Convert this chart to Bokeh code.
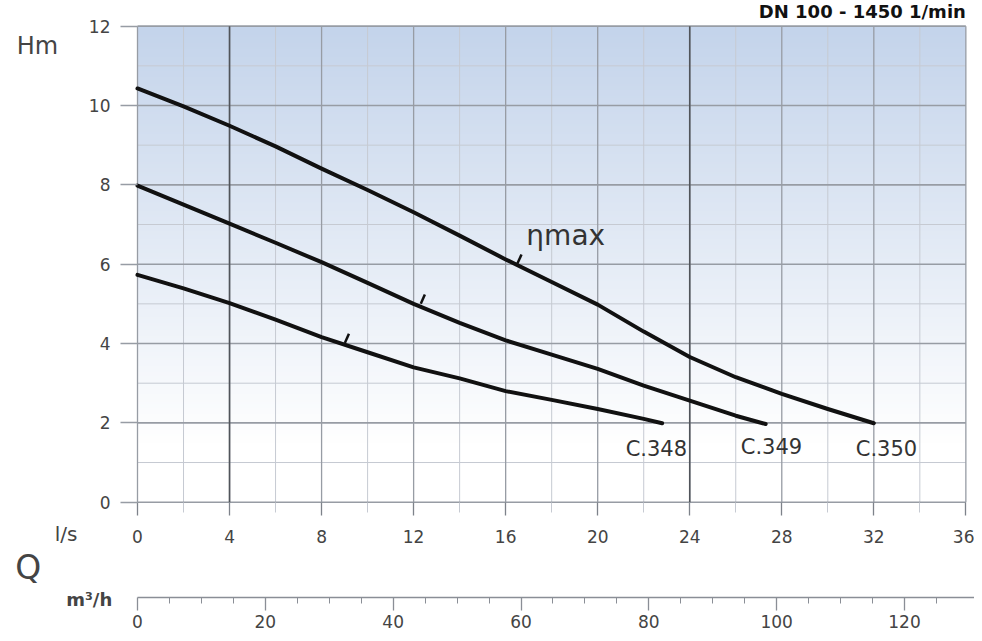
import numpy as np
from bokeh.plotting import figure
from bokeh.models import Range1d, LinearAxis, FixedTicker, Label
from bokeh.embed import file_html
from bokeh.resources import INLINE

# ---- data ----
q_348 = [0, 2, 4, 6, 8, 10, 12, 14, 16, 18, 20, 22, 22.8]
h_348 = [5.73, 5.39, 5.02, 4.60, 4.16, 3.78, 3.40, 3.12, 2.80, 2.58, 2.35, 2.10, 1.99]
q_349 = [0, 2, 4, 6, 8, 10, 12, 14, 16, 18, 20, 22, 24, 26, 27.3]
h_349 = [7.98, 7.50, 7.02, 6.54, 6.05, 5.53, 5.00, 4.52, 4.08, 3.72, 3.36, 2.94, 2.56, 2.18, 1.97]
q_350 = [0, 2, 4, 6, 8, 10, 12, 14, 16, 18, 20, 22, 24, 26, 28, 30, 32]
h_350 = [10.43, 9.98, 9.49, 8.97, 8.41, 7.87, 7.31, 6.72, 6.12, 5.55, 4.98, 4.30, 3.66, 3.15, 2.73, 2.35, 1.99]

eta_q = [9.1, 12.4, 16.6]
eta_h = [4.13, 5.12, 6.13]

curve_names = ["C.348", "C.349", "C.350"]
name_q = [22.55, 27.55, 32.55]
name_h = [1.35, 1.38, 1.35]

y_ticks = [0, 2, 4, 6, 8, 10, 12]
y_minor = [1, 3, 5, 7, 9, 11]
x_ticks = [0, 4, 8, 12, 16, 20, 24, 28, 32, 36]
x_minor = [2, 6, 10, 14, 18, 22, 26, 30, 34]
x_strong = [4, 24]
m3h_ticks = [0, 20, 40, 60, 80, 100, 120]
m3h_minor = [5, 10, 15, 25, 30, 35, 45, 50, 55, 65, 70, 75, 85, 90, 95, 105, 110, 115, 125]
M3H_PER_LS = 3.6

title_text = "DN 100 - 1450 1/min"
FONT = "DejaVu Sans"
TXT = "#444444"

# frame covers the whole canvas; axes are placed at fixed locations
W, H = 974, 633
x0_px, y0_px = 137.0, 501.7      # canvas position of (0, 0)
sx, sy = 23.01, 39.67            # pixels per unit
xr = Range1d(-x0_px / sx, (W - x0_px) / sx)
yr = Range1d(-(H - y0_px) / sy, y0_px / sy)

p = figure(width=W, height=H, x_range=xr, y_range=yr,
           output_backend="svg", toolbar_location=None,
           min_border_left=0, min_border_right=0, min_border_top=0, min_border_bottom=0,
           background_fill_color="white", border_fill_color="white")
p.outline_line_color = None
p.xgrid.visible = False
p.ygrid.visible = False
p.extra_x_ranges = {"m3h": Range1d(xr.start * M3H_PER_LS, xr.end * M3H_PER_LS)}

xmin, xmax = x_ticks[0], x_ticks[-1]
ymin, ymax = y_ticks[0], y_ticks[-1]

# background gradient over the chart area
ny = 240
ys = np.linspace(ymin, ymax, ny)
t = np.clip((ys - 1.5) / 10.5, 0, 1)
top = np.array([196, 212, 235])
img = np.zeros((ny, 1), dtype=np.uint32)
view = img.view(dtype=np.uint8).reshape((ny, 1, 4))
for i in range(ny):
    c = 255 - (255 - top) * t[i]
    view[i, 0, 0] = int(c[0]); view[i, 0, 1] = int(c[1]); view[i, 0, 2] = int(c[2]); view[i, 0, 3] = 255
p.image_rgba(image=[img], x=xmin, y=ymin, dw=xmax - xmin, dh=ymax - ymin, level="image")

# grid lines limited to the chart area
def vlines(xs, color, width):
    p.segment(x0=xs, y0=[ymin] * len(xs), x1=xs, y1=[ymax] * len(xs), line_color=color, line_width=width)

def hlines(ys_, color, width):
    p.segment(x0=[xmin] * len(ys_), y0=ys_, x1=[xmax] * len(ys_), y1=ys_, line_color=color, line_width=width)

vlines(x_minor, "#c6cad2", 1)
hlines(y_minor, "#c6cad2", 1)
vlines(x_ticks, "#979ca4", 1.3)
hlines(y_ticks, "#979ca4", 1.6)
vlines(x_strong, "#50545a", 1.6)

# axes
ya = p.yaxis[0]
ya.fixed_location = 0
ya.bounds = (ymin, ymax)
ya.ticker = FixedTicker(ticks=y_ticks)
ya.axis_line_color = None
ya.major_tick_in = 0
ya.major_tick_out = 17
ya.major_tick_line_color = "#979ca4"
ya.major_tick_line_width = 1.5
ya.minor_tick_line_color = None
ya.major_label_standoff = 10
ya.major_label_text_font = FONT
ya.major_label_text_font_size = "17px"
ya.major_label_text_color = TXT

xa = p.xaxis[0]
xa.fixed_location = 0
xa.bounds = (xmin, xmax)
xa.ticker = FixedTicker(ticks=x_ticks, minor_ticks=x_minor)
xa.axis_line_color = None
xa.major_tick_in = 0
xa.major_tick_out = 13
xa.minor_tick_in = 0
xa.minor_tick_out = 10
xa.major_tick_line_color = "#7d828a"
xa.major_tick_line_width = 1.3
xa.minor_tick_line_color = "#c6cad2"
xa.major_label_standoff = 15
xa.major_label_text_font = FONT
xa.major_label_text_font_size = "17px"
xa.major_label_text_color = TXT

ax2 = LinearAxis(x_range_name="m3h", ticker=FixedTicker(ticks=m3h_ticks, minor_ticks=m3h_minor))
ax2.fixed_location = -2.40
ax2.bounds = (0, 131)
ax2.axis_line_color = "#8a8e96"
ax2.axis_line_width = 1.5
ax2.major_tick_in = 0
ax2.major_tick_out = 13
ax2.minor_tick_in = 0
ax2.minor_tick_out = 6
ax2.major_tick_line_color = "#8a8e96"
ax2.minor_tick_line_color = "#8a8e96"
ax2.major_tick_line_width = 1.3
ax2.major_label_standoff = 5
ax2.major_label_text_font = FONT
ax2.major_label_text_font_size = "17px"
ax2.major_label_text_color = TXT
p.add_layout(ax2, "below")

# curves
for qs, hs in ((q_348, h_348), (q_349, h_349), (q_350, h_350)):
    p.line(qs, hs, line_color="#111111", line_width=4, line_join="round", line_cap="round")

p.scatter(eta_q, eta_h, marker="dash", size=10, angle=1.15, line_color="#111111", line_width=2.5)

for nm, qx, hy in zip(curve_names, name_q, name_h):
    p.add_layout(Label(x=qx, y=hy, text=nm, text_align="center", text_baseline="middle",
                       text_font=FONT, text_font_size="21px", text_color="#333333"))

p.add_layout(Label(x=16.9, y=6.72, text="\u03b7max", text_align="left", text_baseline="middle",
                   text_font=FONT, text_font_size="28px", text_color="#333333"))

# labels left of / below the chart
p.add_layout(Label(x=-4.35, y=11.5, text="Hm", text_align="center", text_baseline="middle",
                   text_font=FONT, text_font_size="24px", text_color=TXT))
p.add_layout(Label(x=-3.1, y=-0.8, text="l/s", text_align="center", text_baseline="middle",
                   text_font=FONT, text_font_size="20px", text_color=TXT))
p.add_layout(Label(x=-4.75, y=-1.65, text="Q", text_align="center", text_baseline="middle",
                   text_font=FONT, text_font_size="33px", text_color=TXT))
p.add_layout(Label(x=-2.1, y=-2.45, text="m\u00b3/h", text_align="center", text_baseline="middle",
                   text_font=FONT, text_font_size="18px", text_font_style="bold", text_color=TXT))
p.add_layout(Label(x=36.0, y=yr.end - 0.01, text=title_text, text_align="right", text_baseline="top",
                   text_font=FONT, text_font_size="18px", text_font_style="bold", text_color="#111111"))

open("out.html", "w").write(file_html(p, INLINE))
